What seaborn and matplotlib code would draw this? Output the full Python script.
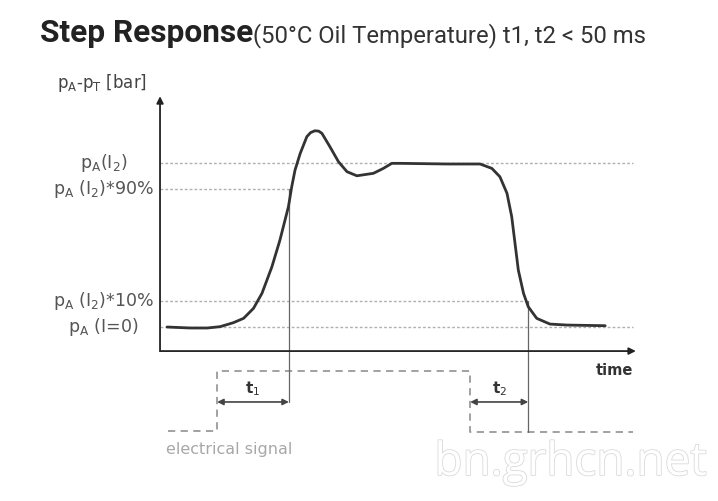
import numpy as np
import pandas as pd
import matplotlib
matplotlib.use("Agg")
import matplotlib.pyplot as plt
import matplotlib.patheffects as pe
import seaborn as sns

sns.set_style("white")
plt.rcParams["font.family"] = ["DejaVu Sans"]

# step response: time (arbitrary, axis = 0..100), pressure (p(I=0)=0, p(I2)=1)
time = [1.5, 6.4, 10.0, 12.7, 15.5, 17.7, 19.8, 21.6, 23.7, 25.4, 27.2, 27.9, 28.6, 29.7,
        31.1, 31.9, 32.8, 33.6, 34.3, 36.0, 37.8, 39.6, 41.7, 45.2, 47.3, 49.1, 50.9, 60.8,
        63.6, 67.8, 70.3, 72.0, 73.5, 74.5, 75.2, 75.9, 77.0, 78.0, 79.8, 82.6, 86.2, 94.3]
pressure = [0.0, -0.006, -0.006, 0.002, 0.026, 0.053, 0.114, 0.206, 0.368, 0.531, 0.735, 0.857,
            0.959, 1.061, 1.163, 1.188, 1.199, 1.197, 1.183, 1.101, 1.010, 0.949, 0.924, 0.939,
            0.969, 1.0, 1.0, 0.996, 0.996, 0.996, 0.969, 0.918, 0.817, 0.674, 0.511, 0.348,
            0.206, 0.124, 0.053, 0.018, 0.012, 0.008]

# reference levels and their labels
levels = [1.0, 0.841, 0.161, 0.0]
level_end = [100.2, 27.3, 78.0, 100.2]
level_labels = [r"p$_\mathrm{A}$(I$_2$)", r"p$_\mathrm{A}$ (I$_2$)*90%",
                r"p$_\mathrm{A}$ (I$_2$)*10%", r"p$_\mathrm{A}$ (I=0)"]

# electrical signal (dashed, below the axis)
sig_time = [1.7, 12.1, 12.1, 65.7, 65.7, 100.2]
sig_level = [-0.635, -0.635, -0.269, -0.269, -0.641, -0.641]

# response times
t1_span = (12.1, 27.3)
t2_span = (65.7, 78.0)
arrow_y = -0.458

fig = plt.figure(figsize=(7.18, 5.01), dpi=100)
ax = fig.add_axes([0, 0, 1, 1])
ax.set_xlim(-33.9, 118.2)
ax.set_ylim(-1.063, 1.998)
ax.axis("off")

# guide lines
for lv, xe in zip(levels, level_end):
    ax.plot([0, xe], [lv, lv], color="#b0b0b0", lw=1.0, ls=(0, (2, 1.5)), zorder=1)
for lv, lab in zip(levels, level_labels):
    ax.text(-12.0, lv, lab, ha="center", va="center", fontsize=12.5, color="#555555")

# axes with arrows
ax.annotate("", xy=(100.8, -0.147), xytext=(0, -0.147),
            arrowprops=dict(arrowstyle="-|>", color="#222222", lw=1.3,
                            mutation_scale=10, shrinkA=0, shrinkB=0))
ax.annotate("", xy=(0, 1.41), xytext=(0, -0.147),
            arrowprops=dict(arrowstyle="-|>", color="#222222", lw=1.3,
                            mutation_scale=10, shrinkA=0, shrinkB=0))
ax.text(100.2, -0.265, "time", ha="right", va="center", fontsize=10.5,
        color="#333333", fontweight="bold")
ax.text(-12.4, 1.49, r"p$_\mathrm{A}$-p$_\mathrm{T}$ [bar]", ha="center", va="center",
        fontsize=12, color="#444444")

# response curve
df = pd.DataFrame({"time": time, "pressure": pressure})
sns.lineplot(data=df, x="time", y="pressure", ax=ax, color="#333333", lw=2.0,
             sort=False, estimator=None, errorbar=None, zorder=3)

# electrical signal
sig = pd.DataFrame({"time": sig_time, "level": sig_level})
sns.lineplot(data=sig, x="time", y="level", ax=ax, color="#9a9a9a", lw=1.3,
             ls=(0, (4, 3)), sort=False, estimator=None, errorbar=None, zorder=2)
ax.text(1.2, -0.70, "electrical signal", ha="left", va="top", fontsize=11.5, color="#a8a8a8")

# t1 / t2 markers
ax.plot([t1_span[1], t1_span[1]], [levels[1], -0.458], color="#666666", lw=0.9, zorder=2)
ax.plot([t2_span[1], t2_span[1]], [levels[2], -0.641], color="#666666", lw=0.9, zorder=2)
for (a, b), lab in zip([t1_span, t2_span], ["t$_1$", "t$_2$"]):
    ax.annotate("", xy=(b, arrow_y), xytext=(a, arrow_y),
                arrowprops=dict(arrowstyle="<|-|>", color="#444444", lw=1.2,
                                mutation_scale=9, shrinkA=0, shrinkB=0))
    ax.text((a + b) / 2, -0.375, lab, ha="center", va="center", fontsize=11,
            color="#333333", fontweight="bold")

# title
t = fig.text(40 / 718, 1 - 42 / 501, "Step Response", ha="left", va="baseline",
             fontsize=22.8, fontweight="bold", family="Roboto", color="#222222")
fig.canvas.draw()
bb = t.get_window_extent()
fig.text(bb.x1 / 718, 1 - 42 / 501, "(50°C Oil Temperature) t1, t2 < 50 ms",
         ha="left", va="baseline", fontsize=17.2, family="Roboto", color="#333333")

# watermark
fig.text(707 / 718, 1 - 475 / 501, "bn.grhcn.net", ha="right", va="baseline",
         fontsize=33, family="Open Sans", color="white",
         path_effects=[pe.withStroke(linewidth=1.2, foreground="#dadada")])

fig.savefig("out.png", dpi=100)
plt.close()
